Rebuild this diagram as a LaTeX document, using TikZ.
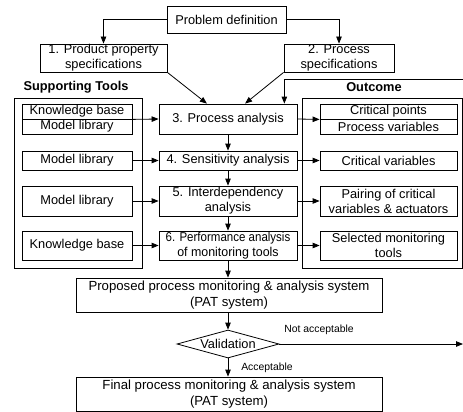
\documentclass[tikz,border=0pt]{standalone}
\usepackage{fontspec}
\usepackage{graphicx}
\setmainfont{Liberation Sans}
\usetikzlibrary{arrows.meta,shapes.geometric,calc}
\newcommand\bodysize{\fontsize{12.8}{15}\selectfont}
\newcommand\widesize{\fontsize{13.2}{15.5}\selectfont}
\newcommand\notesize{\fontsize{10.4}{12}\selectfont}
\begin{document}
\begin{tikzpicture}[x=1pt,y=-1pt,
  box/.style={draw, line width=0.8pt, inner sep=0pt, align=center, font=\bodysize},
  frame/.style={draw, line width=0.8pt, inner sep=0pt},
  heading/.style={font=\bodysize\bfseries, inner sep=0pt},
  note/.style={font=\notesize, inner sep=0pt},
  arr/.style={line width=0.8pt, -{Triangle[length=7pt,width=5.5pt]}},
  link/.style={line width=0.8pt}]
\useasboundingbox (0,0) rectangle (463,412);

% top: problem statement and specifications
\node[box, minimum width=119pt, minimum height=27pt] (pd) at (226.5,19.5) {Problem definition};
\node[box, minimum width=127pt, minimum height=28pt] (b1) at (103.5,58) {1. Product property\\specifications};
\node[box, minimum width=110pt, minimum height=28pt] (b2) at (339,58) {2. Process\\specifications};

% group frames and their headings
\node[frame, minimum width=128pt, minimum height=170pt] (sup) at (78,183) {};
\node[frame, minimum width=160pt, minimum height=170pt] (out) at (382,183) {};
\node[heading] (suplbl) at (76,87) {Supporting Tools};
\node[heading] (outlbl) at (374,87) {Outcome};

% row 1
\node[box, minimum width=110pt, minimum height=15pt] (kbA) at (77,111.5) {Knowledge base};
\node[box, minimum width=110pt, minimum height=15pt] (kbB) at (77,126.5) {Model library};
\node[box, minimum width=138pt, minimum height=30pt] (pa) at (228,119) {3. Process analysis};
\node[box, minimum width=137pt, minimum height=15pt] (cpA) at (388.5,111.5) {Critical points};
\node[box, minimum width=137pt, minimum height=15pt] (cpB) at (388.5,126.5) {Process variables};

% row 2
\node[box, minimum width=110pt, minimum height=19pt] (ml2) at (77,160.5) {Model library};
\node[box, minimum width=138pt, minimum height=19pt] (sa) at (228,160.5) {4. Sensitivity analysis};
\node[box, minimum width=137pt, minimum height=19pt] (cv) at (388.5,160.5) {Critical variables};

% row 3
\node[box, minimum width=110pt, minimum height=30pt] (ml3) at (77,201) {Model library};
\node[box, minimum width=138pt, minimum height=30pt] (ia) at (228,201) {5. Interdependency\\analysis};
\node[box, minimum width=137pt, minimum height=30pt] (pc) at (388.5,201) {Pairing of critical\\variables \& actuators};

% row 4
\node[box, minimum width=110pt, minimum height=29pt] (kb4) at (77,245.5) {Knowledge base};
\node[box, minimum width=138pt, minimum height=29pt] (pf) at (228,245.5) {\scalebox{0.9}[1]{6. Performance analysis}\\\scalebox{0.97}[1]{of monitoring tools}};
\node[box, minimum width=137pt, minimum height=29pt] (smt) at (388.5,245.5) {Selected monitoring\\tools};

% bottom: proposed system, validation, final system
\node[box, font=\widesize, minimum width=306pt, minimum height=34pt] (pps) at (229,295) {Proposed process monitoring \& analysis system\\(PAT system)};
\node[box, diamond, aspect=3.64, minimum width=102pt, minimum height=28pt] (val) at (228,344) {Validation};
\node[box, font=\widesize, minimum width=306pt, minimum height=34pt] (fin) at (229,394) {Final process monitoring \& analysis system\\(PAT system)};

\node[note] (nacc) at (319,330) {Not acceptable};
\node[note] (acc) at (267,368) {Acceptable};

% entry points on top of the process analysis box
\coordinate (paL) at ($(pa.north west)!0.348!(pa.north east)$);
\coordinate (paR) at ($(pa.north west)!0.623!(pa.north east)$);
\coordinate (paF) at ($(pa.north west)!0.906!(pa.north east)$);
\coordinate (fbin) at (463,79);
\coordinate (rejout) at (463,344);

% connectors
\draw[arr] (pd.west) -| (b1.north);
\draw[arr] (pd.east) -| (b2.north);
\draw[arr] (b1.south east) -- (paL);
\draw[arr] (b2.south west) -- (paR);
\draw[arr] (fbin) -| (paF);

\draw[arr] (kbA.south east) -- (pa.west);
\draw[arr] (pa.east) -- (cpA.south west);
\draw[arr] (ml2.east) -- (sa.west);
\draw[arr] (sa.east) -- (cv.west);
\draw[arr] (ml3.east) -- (ia.west);
\draw[arr] (ia.east) -- (pc.west);
\draw[arr] (kb4.east) -- (pf.west);
\draw[arr] (pf.east) -- (smt.west);

\draw[arr] (pa.south) -- (sa.north);
\draw[arr] (sa.south) -- (ia.north);
\draw[arr] (ia.south) -- (pf.north);
\draw[arr] (pf.south) -- (pf.south |- pps.north);
\draw[arr] (val.north |- pps.south) -- (val.north);
\draw[arr] (val.east) -- (rejout);
\draw[arr] (val.south) -- (val.south |- fin.north);
\end{tikzpicture}
\end{document}
